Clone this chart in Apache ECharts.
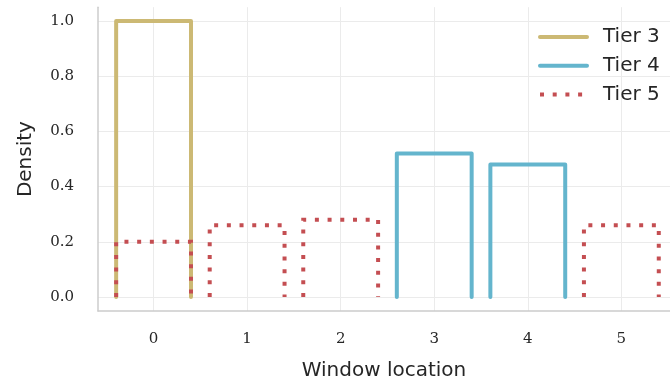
<!DOCTYPE html>
<html>
<head>
<meta charset="utf-8">
<script src="https://cdn.jsdelivr.net/npm/echarts@6/dist/echarts.min.js"></script>
<style>
  html, body { margin: 0; padding: 0; background: #ffffff; }
  #chart { width: 670px; height: 390px; }
</style>
</head>
<body>
<div id="chart"></div>
<script>
// Data (density per window location)
const windowLocations = [0, 1, 2, 3, 4, 5];
const tier3 = [1.0, 0, 0, 0, 0, 0];
const tier4 = [0, 0, 0, 0.52, 0.48, 0];
const tier5 = [0.20, 0.26, 0.28, 0, 0, 0.26];
const yTicks = [0.0, 0.2, 0.4, 0.6, 0.8, 1.0];
const xTicks = [0, 1, 2, 3, 4, 5];
const seriesNames = ['Tier 3', 'Tier 4', 'Tier 5'];
const binHalfWidth = 0.4; // shrink 0.8 bars

// Build step outlines of discrete histogram bars (library maps to pixels)
function stepOutline(values) {
  const pts = [];
  values.forEach((v, i) => {
    if (v <= 0) return;
    const c = windowLocations[i];
    pts.push([c - binHalfWidth, 0], [c - binHalfWidth, v], [c + binHalfWidth, v], [c + binHalfWidth, 0]);
    pts.push('-');
  });
  return pts;
}

const colors = ['#ccb974', '#64b5cd', '#c44e52'];
const chart = echarts.init(document.getElementById('chart'), null, { renderer: 'canvas' });

const textColor = '#262626';
const sans = 'DejaVu Sans';
const serif = 'DejaVu Serif';

chart.setOption({
  animation: false,
  backgroundColor: '#ffffff',
  grid: { left: 98, right: 0, top: 7.2, bottom: 79, containLabel: false },
  legend: {
    orient: 'vertical',
    left: 538,
    top: 27,
    padding: 0,
    itemWidth: 47,
    itemHeight: 14,
    itemGap: 8.8,
    itemStyle: { opacity: 0 },
    lineStyle: { width: 4 },
    textStyle: { fontFamily: sans, fontSize: 20, color: textColor, padding: [0, 0, 0, 11] },
    data: seriesNames
  },
  xAxis: {
    type: 'value',
    min: -0.594,
    max: 5.52,
    name: 'Window location',
    nameLocation: 'middle',
    nameGap: 50,
    nameTextStyle: { fontFamily: sans, fontSize: 20, color: textColor },
    axisLine: { show: true, onZero: false, lineStyle: { color: '#cccccc', width: 1.5 } },
    axisTick: { show: false, customValues: xTicks },
    axisLabel: { customValues: xTicks, fontFamily: serif, fontSize: 15, color: textColor, margin: 21 },
    splitLine: { show: true, lineStyle: { color: '#ebebeb', width: 1 } }
  },
  yAxis: {
    type: 'value',
    min: -0.0507,
    max: 1.05,
    name: 'Density',
    nameLocation: 'middle',
    nameGap: 62,
    nameTextStyle: { fontFamily: sans, fontSize: 20, color: textColor },
    axisLine: { show: true, onZero: false, lineStyle: { color: '#cccccc', width: 1.5 } },
    axisTick: { show: false, customValues: yTicks },
    axisLabel: { customValues: yTicks, fontFamily: serif, fontSize: 15, color: textColor, margin: 24,
      formatter: v => v.toFixed(1) },
    splitLine: { show: true, lineStyle: { color: '#ebebeb', width: 1 } }
  },
  series: [
    { name: seriesNames[0], type: 'line', data: stepOutline(tier3), connectNulls: false, symbol: 'none',
      color: colors[0], lineStyle: { color: colors[0], width: 4, cap: 'round', join: 'round' } },
    { name: seriesNames[1], type: 'line', data: stepOutline(tier4), connectNulls: false, symbol: 'none',
      color: colors[1], lineStyle: { color: colors[1], width: 4, cap: 'round', join: 'round' } },
    { name: seriesNames[2], type: 'line', data: stepOutline(tier5), connectNulls: false, symbol: 'none',
      color: colors[2], lineStyle: { color: colors[2], width: 4, type: [4, 8.7], cap: 'butt', join: 'miter' } }
  ]
});
</script>
</body>
</html>
